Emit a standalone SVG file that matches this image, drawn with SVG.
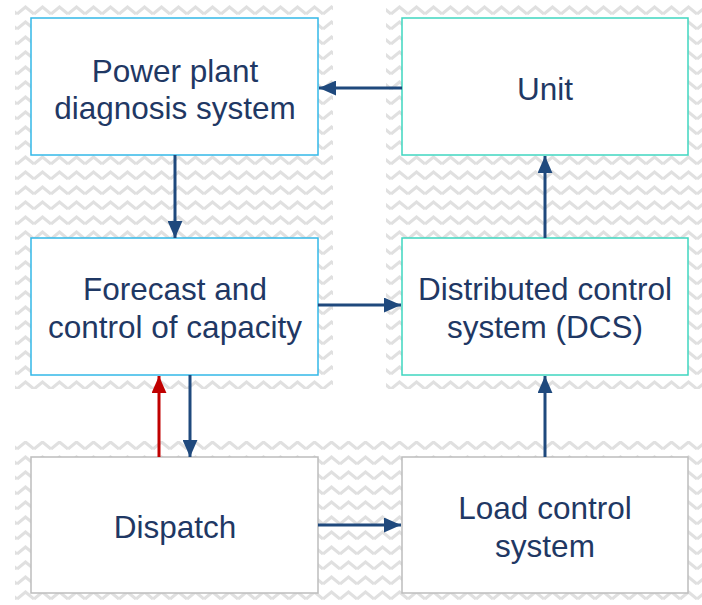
<svg xmlns="http://www.w3.org/2000/svg" width="702" height="605" viewBox="0 0 702 605">
  <defs>
    <pattern id="zigzag" x="0" y="4" width="17" height="15" patternUnits="userSpaceOnUse">
      <polyline points="0,10 8.5,3 17,10" fill="none" stroke="#e0e0e0" stroke-width="3"/>
    </pattern>
    <marker id="head" viewBox="0 0 16 14" refX="16" refY="7" markerWidth="17" markerHeight="15" markerUnits="userSpaceOnUse" orient="auto">
      <path d="M0,0 L16,7 L0,14 Z" fill="#1f497d"/>
    </marker>
    <marker id="headRed" viewBox="0 0 16 14" refX="16" refY="7" markerWidth="17" markerHeight="15" markerUnits="userSpaceOnUse" orient="auto">
      <path d="M0,0 L16,7 L0,14 Z" fill="#c00000"/>
    </marker>
  </defs>
  <style>
    .box { fill: #ffffff; stroke-width: 1.5; }
    .blue { stroke: #33b8e8; }
    .teal { stroke: #3fd6c0; }
    .grey { stroke: #bdbdbd; }
    .label { font-family: "Liberation Sans", Arial, sans-serif; font-size: 31.5px; fill: #1f3864; text-anchor: middle; }
    .link { stroke: #1f497d; stroke-width: 3; fill: none; marker-end: url(#head); }
    .link-red { stroke: #c00000; stroke-width: 3; fill: none; marker-end: url(#headRed); }
  </style>

  <!-- background panels -->
  <g id="panels">
    <rect x="15" y="4" width="318" height="385" fill="url(#zigzag)"/>
    <rect x="386" y="4" width="316" height="385" fill="url(#zigzag)"/>
    <rect x="15" y="441" width="687" height="164" fill="url(#zigzag)"/>
  </g>

  <g id="diagnosis">
    <rect class="box blue" x="31" y="18" width="287" height="137"/>
    <text class="label" x="175" y="82">Power plant</text>
    <text class="label" x="175" y="119">diagnosis system</text>
  </g>
  <g id="unit">
    <rect class="box teal" x="402" y="18" width="286" height="137"/>
    <text class="label" x="545" y="100">Unit</text>
  </g>
  <g id="forecast">
    <rect class="box blue" x="31" y="238" width="287" height="137"/>
    <text class="label" x="175" y="300">Forecast and</text>
    <text class="label" x="175" y="338">control of capacity</text>
  </g>
  <g id="dcs">
    <rect class="box teal" x="402" y="238" width="286" height="137"/>
    <text class="label" x="545" y="300">Distributed control</text>
    <text class="label" x="545" y="338">system (DCS)</text>
  </g>
  <g id="dispatch">
    <rect class="box grey" x="31" y="457" width="287" height="136"/>
    <text class="label" x="175" y="538">Dispatch</text>
  </g>
  <g id="load">
    <rect class="box grey" x="402" y="457" width="286" height="136"/>
    <text class="label" x="545" y="519">Load control</text>
    <text class="label" x="545" y="557">system</text>
  </g>

  <g id="connectors">
    <line class="link" x1="402" y1="88" x2="319" y2="88"/>
    <line class="link" x1="175" y1="155" x2="175" y2="238"/>
    <line class="link" x1="318" y1="305" x2="401" y2="305"/>
    <line class="link" x1="545" y1="238" x2="545" y2="156"/>
    <line class="link" x1="190" y1="375" x2="190" y2="457"/>
    <line class="link-red" x1="159" y1="457" x2="159" y2="376"/>
    <line class="link" x1="318" y1="525" x2="401" y2="525"/>
    <line class="link" x1="545" y1="457" x2="545" y2="376"/>
  </g>
</svg>
